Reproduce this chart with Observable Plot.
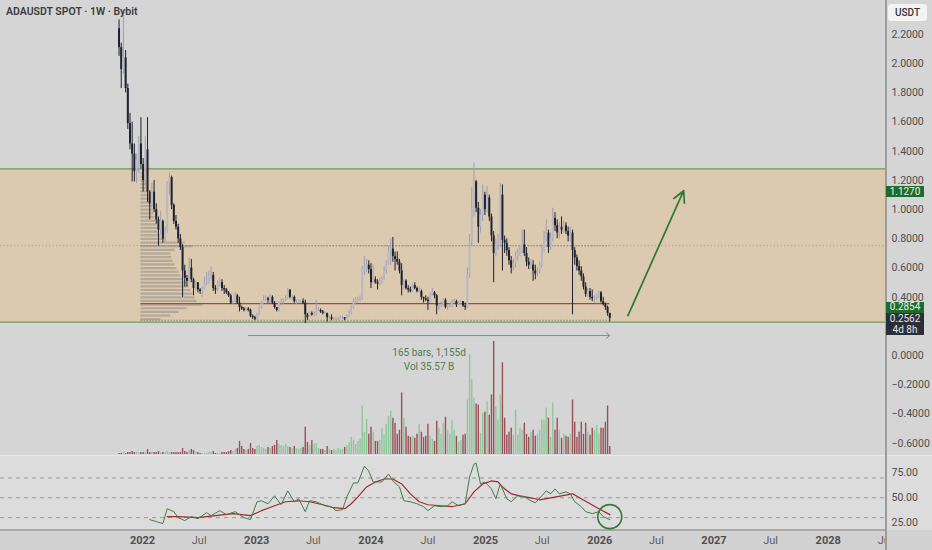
<!DOCTYPE html>
<html><head><meta charset="utf-8">
<script src="https://cdn.jsdelivr.net/npm/d3@7"></script>
<script src="https://cdn.jsdelivr.net/npm/@observablehq/plot@0.6"></script>
<style>
html,body{margin:0;padding:0;background:#d4d4d4;}
#wrap{position:relative;width:932px;height:550px;overflow:hidden;background:#d5d5d5;font-family:Roboto,"Open Sans",sans-serif;}
.layer{position:absolute;left:0;overflow:hidden;}
.layer svg{display:block;max-width:none !important;}
</style></head>
<body><div id="wrap"></div>
<script>
// ---------------- data ----------------
const startWeek = "2021-10-18";
const firstOpen = 2.24;
const closes = [
2.11,1.96,2.04,1.83,1.59,1.45,1.38,1.26,1.34,1.45,
1.31,1.20,1.41,1.12,1.04,1.12,1.00,0.93,0.86,0.92,
0.80,0.85,1.18,1.22,1.03,0.92,0.88,0.80,0.74,0.58,
0.53,0.51,0.60,0.52,0.46,0.50,0.45,0.44,0.46,0.50,
0.51,0.54,0.55,0.46,0.45,0.49,0.50,0.46,0.45,0.43,
0.41,0.36,0.37,0.41,0.36,0.33,0.32,0.31,0.32,0.31,
0.27,0.26,0.25,0.27,0.33,0.36,0.38,0.39,0.38,0.40,
0.36,0.33,0.31,0.36,0.37,0.38,0.39,0.45,0.40,0.40,
0.37,0.37,0.37,0.37,0.36,0.28,0.26,0.29,0.28,0.28,
0.31,0.31,0.30,0.29,0.29,0.26,0.26,0.25,0.25,0.25,
0.25,0.26,0.26,0.25,0.27,0.29,0.33,0.37,0.38,0.38,
0.39,0.59,0.60,0.62,0.59,0.50,0.52,0.50,0.49,0.50,
0.53,0.58,0.63,0.72,0.73,0.68,0.66,0.64,0.58,0.48,
0.51,0.46,0.45,0.44,0.48,0.46,0.44,0.44,0.40,0.39,
0.38,0.37,0.42,0.43,0.41,0.34,0.34,0.35,0.38,0.33,
0.34,0.34,0.37,0.37,0.35,0.36,0.37,0.34,0.33,0.55,
0.78,1.00,1.19,1.01,0.88,0.96,1.10,1.00,1.08,0.95,
0.82,0.70,0.76,0.80,1.10,0.79,0.77,0.72,0.65,0.60,
0.63,0.68,0.70,0.72,0.76,0.70,0.64,0.62,0.62,0.58,
0.56,0.58,0.62,0.72,0.80,0.84,0.74,0.80,0.94,0.89,
0.84,0.88,0.86,0.89,0.85,0.82,0.84,0.72,0.67,0.61,
0.58,0.54,0.47,0.42,0.44,0.40,0.39,0.40,0.41,0.43,
0.37,0.35,0.33,0.29,0.2562];
const highs = [
2.30,2.14,2.36,2.09,1.86,1.66,1.60,1.45,1.38,1.50,
1.63,1.35,1.50,1.63,1.13,1.18,1.20,1.04,0.95,0.99,
0.93,0.88,1.19,1.25,1.23,1.04,0.96,0.90,0.83,0.76,
0.62,0.55,0.67,0.66,0.53,0.51,0.50,0.46,0.47,0.54,
0.57,0.58,0.61,0.57,0.48,0.51,0.53,0.52,0.48,0.46,
0.44,0.42,0.38,0.43,0.42,0.40,0.34,0.33,0.33,0.33,
0.32,0.28,0.27,0.29,0.34,0.37,0.41,0.41,0.40,0.42,
0.41,0.37,0.33,0.37,0.39,0.39,0.41,0.46,0.45,0.41,
0.41,0.38,0.38,0.38,0.39,0.38,0.29,0.30,0.30,0.30,
0.38,0.33,0.32,0.31,0.30,0.29,0.27,0.28,0.26,0.26,
0.26,0.27,0.27,0.26,0.28,0.31,0.34,0.39,0.40,0.40,
0.41,0.61,0.68,0.66,0.65,0.63,0.62,0.54,0.52,0.53,
0.54,0.61,0.65,0.75,0.80,0.81,0.71,0.71,0.66,0.63,
0.52,0.52,0.48,0.47,0.49,0.50,0.47,0.47,0.45,0.40,
0.41,0.40,0.43,0.46,0.44,0.42,0.36,0.37,0.39,0.39,
0.35,0.36,0.38,0.39,0.38,0.37,0.38,0.37,0.36,0.60,
0.83,1.15,1.32,1.20,1.05,1.00,1.17,1.12,1.16,1.10,
0.97,0.85,0.80,0.83,1.18,1.17,0.82,0.80,0.74,0.68,
0.66,0.71,0.73,0.75,0.86,0.86,0.74,0.67,0.66,0.65,
0.62,0.60,0.64,0.76,0.85,0.93,0.86,0.84,1.01,0.98,
0.93,0.91,0.95,0.92,0.91,0.88,0.88,0.86,0.74,0.69,
0.65,0.61,0.56,0.50,0.46,0.46,0.45,0.41,0.42,0.44,
0.44,0.40,0.36,0.34,0.29];
const lows = [
2.05,1.83,1.93,1.80,1.55,1.41,1.19,1.19,1.18,1.25,
1.28,1.12,1.16,1.05,0.93,1.01,0.98,0.90,0.75,0.83,
0.77,0.77,0.84,1.10,1.00,0.90,0.86,0.77,0.72,0.40,
0.47,0.47,0.50,0.50,0.41,0.45,0.43,0.42,0.40,0.45,
0.48,0.49,0.51,0.44,0.42,0.44,0.47,0.44,0.42,0.42,
0.40,0.35,0.35,0.36,0.35,0.30,0.31,0.30,0.30,0.30,
0.26,0.25,0.24,0.24,0.27,0.32,0.35,0.37,0.36,0.36,
0.35,0.32,0.30,0.30,0.34,0.35,0.37,0.38,0.39,0.38,
0.36,0.35,0.36,0.36,0.35,0.22,0.24,0.26,0.27,0.27,
0.27,0.30,0.29,0.28,0.28,0.23,0.25,0.24,0.24,0.24,
0.24,0.25,0.25,0.24,0.25,0.26,0.28,0.32,0.35,0.36,
0.37,0.38,0.55,0.57,0.56,0.46,0.49,0.49,0.45,0.48,
0.49,0.52,0.56,0.62,0.62,0.64,0.58,0.62,0.56,0.41,
0.45,0.45,0.43,0.43,0.43,0.45,0.43,0.43,0.38,0.36,
0.37,0.31,0.36,0.41,0.39,0.28,0.31,0.33,0.34,0.32,
0.31,0.33,0.33,0.36,0.33,0.34,0.35,0.33,0.31,0.32,
0.53,0.75,0.95,0.98,0.77,0.84,0.92,0.96,0.98,0.92,
0.78,0.50,0.68,0.72,0.74,0.58,0.70,0.68,0.62,0.56,
0.58,0.60,0.65,0.68,0.70,0.68,0.61,0.59,0.59,0.51,
0.52,0.54,0.56,0.60,0.71,0.78,0.70,0.72,0.78,0.85,
0.80,0.80,0.83,0.84,0.83,0.78,0.78,0.28,0.62,0.58,
0.55,0.51,0.45,0.40,0.40,0.38,0.37,0.36,0.38,0.39,
0.36,0.34,0.31,0.27,0.23];
// weekly volume (relative units)
const volumes = [
1,1,2,1,2,
2,3,2,2,2,2,2,2,5,2,2,2,2,3,2,2,2,3,2,2,2,2,2,2,
6,3,2,4,5,4,2,2,1,1,1,1,2,2,3,1,1,1,2,2,2,3,4,3,5,6,
13,8,5,4,5,
11,6,5,8,9,7,6,5,7,6,8,9,
14,10,9,8,10,8,7,6,8,6,5,6,7,
27,12,9,14,10,11,
6,5,5,4,8,5,4,5,4,6,5,5,7,
9,12,17,14,10,13,15,
48,22,35,20,27,22,13,13,14,26,
19,30,38,43,36,31,20,24,61,36,
27,18,17,18,16,20,30,22,17,18,
30,18,15,13,33,26,20,31,37,24,
20,34,24,18,12,14,19,20,54,99,
74,56,50,49,21,41,42,52,39,59,
112,47,34,59,91,36,19,22,26,19,
44,19,26,24,31,20,17,22,24,18,
20,24,34,34,46,36,17,51,24,36,
24,16,20,18,17,20,54,32,17,22,
32,20,31,22,19,26,24,29,20,26,
26,32,48,8];
// RSI (weekly index, value) and its moving average
const rsiWeeks  = [14,17,20,22,25,27,30,33,36,40,42,46,49,53,57,60,63,65,68,71,74,77,80,82,85,87,90,94,97,99,102,104,107,109,112,114,116,120,123,125,128,130,133,136,139,141,144,147,150,152,155,158,160,162,163,165,167,170,172,174,177,179,182,185,188,190,193,195,197,199,201,204,206,208,211,213,216,219,221,224];
const rsiValues = [28,26,24,39,36,30,27,31,29,35,32,37,33,36,30,28,46,47,44,52,43,57,46,49,36,47,46,42,41,37,38,51,65,65,82,77,66,66,74,67,61,47,46,44,41,37,42,41,42,46,42,44,71,84,85,64,66,59,49,64,49,46,52,51,47,45,52,57,54,59,54,56,54,46,41,36,34,36,31,28];
const maWeeks  = [22,27,36,44,52,60,65,71,76,82,87,93,98,103,106,109,113,117,121,125,129,133,137,141,147,152,158,162,166,170,173,175,179,183,188,192,197,202,207,211,215,219,224];
const maValues = [31,31,30,32,34,32,37,42,46,47,46,43,40,39,44,51,61,66,69,69,64,54,46,43,42,41,44,56,64,67,66,61,54,52,50,48,50,52,54,49,44,39,33];
// visible-range volume profile
const profileLevels  = [1.25,1.225,1.20,1.175,1.15,1.125,1.10,1.075,1.05,1.025,1.00,0.975,0.95,0.925,0.90,0.875,0.85,0.825,0.80,0.775,0.75,0.725,0.70,0.675,0.65,0.625,0.60,0.575,0.55,0.525,0.50,0.475,0.45,0.425,0.40,0.375,0.35,0.325,0.30,0.275,0.25];
const profileVolumes = [3,4,5,5,6,7,8,9,10,11,12,13,14,15,16,17,18,20,24,44,52,34,30,31,32,34,36,38,40,42,46,48,50,52,54,56,62,46,38,30,20];
const profileStartWeek = 10;
// levels / annotations
const zoneTop = 1.28, zoneBottom = 0.23;
const vahLevel = 0.753, valLevel = 0.243, pocLevel = 0.356;
const measureBars = 165, measureLevel = 0.138;
const measureText1 = "165 bars, 1,155d", measureText2 = "Vol 35.57 B";
const targetFrom = ["2026-04-01", 0.275], targetTo = ["2026-09-26", 1.13];
const rsiCircle = [224, 31];
// 0.2000 is hidden behind the last-price label in the reference
const priceTicks = [-0.6,-0.4,-0.2,0,0.4,0.6,0.8,1.0,1.2,1.4,1.6,1.8,2.0,2.2];
const rsiTicks = [25,50,75], rsiBands = [30,50,70];
const timeTicks = ["2022-01-01","2022-07-01","2023-01-01","2023-07-01","2024-01-01","2024-07-01","2025-01-01","2025-07-01","2026-01-01","2026-07-01","2027-01-01","2027-07-01","2028-01-01","2028-07-01"];
const timeLabels = ["2022","Jul","2023","Jul","2024","Jul","2025","Jul","2026","Jul","2027","Jul","2028","Jul"];
const titleText = "ADAUSDT SPOT · 1W · Bybit";
const targetPrice = 1.1270, markPrice = 0.2854, lastPrice = 0.2562, countdown = "4d 8h", currency = "USDT";

// ---------------- build ----------------
const W = 932, PLOT_R = 47;
const xDomain = [new Date("2020-10-04T06:00:00Z"), new Date("2028-07-02T00:00:00Z")];
const priceDomain = [-0.6836, 2.4329];
const t0 = new Date(startWeek + "T00:00:00Z");
const weekDate = i => new Date(+t0 + i * 7 * 864e5);
const candles = closes.map((c, i) => {
  const open = i ? closes[i - 1] : firstOpen;
  return {date: weekDate(i), open, close: c, high: highs[i], low: lows[i], vol: volumes[i], up: c >= open};
});
const UP = "#b9b9c6", UPW = "#9e9eac", DN = "#1d2130";
const VUP = "#8ec79b", VDN = "#9b4f5a";
const wrap = document.getElementById("wrap");
const baseStyle = {background: "transparent", overflow: "visible", maxWidth: "none", fontFamily: "Roboto, 'Open Sans', sans-serif"};

function addLayer(el, top, height, width) {
  const d = document.createElement("div");
  d.className = "layer";
  d.style.top = top + "px";
  d.style.height = height + "px";
  d.style.width = (width || W) + "px";
  d.appendChild(el);
  wrap.appendChild(d);
  return d;
}
function addDiv(css, html) {
  const d = document.createElement("div");
  d.style.cssText = "position:absolute;" + css;
  if (html != null) d.innerHTML = html;
  wrap.appendChild(d);
  return d;
}
const common = (h) => ({width: W, height: h, marginLeft: 0, marginRight: PLOT_R, marginTop: 0, marginBottom: 0,
  x: {type: "utc", domain: xDomain, axis: null}, style: baseStyle});

// pane backgrounds
addDiv("left:0;top:455px;width:932px;height:75px;background:#dcdcdc;");
addDiv("left:0;top:455px;width:932px;height:1px;background:#e9e9e9;");
addDiv("left:0;top:530px;width:932px;height:20px;background:#d2d2d2;");
addDiv("left:0;top:529px;width:886px;height:2px;background:#a9a9a9;");

// Layer A: zone and level lines
const plotA = Plot.plot({...common(455), y: {domain: priceDomain, axis: null},
  marks: [
    Plot.rect([0], {x1: () => xDomain[0], x2: () => xDomain[1], y1: () => zoneBottom, y2: () => zoneTop, fill: "#dccab0"}),
    Plot.ruleY([zoneTop, zoneBottom], {x1: () => xDomain[0], x2: () => xDomain[1], stroke: "#6d9a60", strokeWidth: 1.2}),
    Plot.ruleY([vahLevel], {x1: () => xDomain[0], x2: () => xDomain[1], stroke: "#b3a792", strokeWidth: 1, strokeDasharray: "1.5,2"})
  ]});
addLayer(plotA, 0, 455);

// Layer B: volume profile
const xTime = d3.scaleUtc(xDomain, [0, W - PLOT_R]);
const px0 = xTime(weekDate(profileStartWeek));
const profile = profileLevels.map((p, i) => ({p, v: profileVolumes[i]}));
const plotB = Plot.plot({width: W, height: 455, marginLeft: 0, marginRight: PLOT_R, marginTop: 0, marginBottom: 0,
  x: {domain: [0, 100], range: [px0, px0 + 100], axis: null}, y: {domain: priceDomain, axis: null}, style: baseStyle,
  marks: [Plot.ruleY(profile, {y: "p", x1: 0, x2: "v", stroke: "#8c8780", strokeOpacity: 0.5, strokeWidth: 2.2})]});
addLayer(plotB, 0, 455);

// Layer D: volume bars
const plotD = Plot.plot({...common(125), y: {domain: [0, 112], range: [124, 11], axis: null}, color: {type: "identity"},
  marks: [Plot.ruleX(candles, {x: "date", y1: 0, y2: "vol", stroke: d => d.up ? VUP : VDN, strokeWidth: 1.4})]});
addLayer(plotD, 330, 125);

// Layer F: time axis
const ticks = timeTicks.map((t, i) => ({date: new Date(t + "T00:00:00Z"), label: timeLabels[i], year: timeLabels[i] !== "Jul"}));
const plotF = Plot.plot({...common(20),
  marks: [
    Plot.text(ticks.filter(d => d.year), {x: "date", text: "label", frameAnchor: "middle", fontSize: 11, fontWeight: 700, fill: "#4f4f4f"}),
    Plot.text(ticks.filter(d => !d.year), {x: "date", text: "label", frameAnchor: "middle", fontSize: 11, fill: "#5e5e5e"})
  ]});
addLayer(plotF, 530, 20, 886);

// Layer E: RSI
const rsi = rsiWeeks.map((w, i) => ({date: weekDate(w), v: rsiValues[i]}));
const ma = maWeeks.map((w, i) => ({date: weekDate(w), v: maValues[i]}));
const plotE = Plot.plot({...common(75), y: {domain: [17, 92.7], axis: null},
  marks: [
    Plot.ruleY(rsiBands, {x1: () => xDomain[0], x2: () => xDomain[1], stroke: "#8e8e8e", strokeWidth: 0.9, strokeDasharray: "4,4"}),
    Plot.lineY(ma, {x: "date", y: "v", stroke: "#a32a2c", strokeWidth: 1.2}),
    Plot.lineY(rsi, {x: "date", y: "v", stroke: "#3f7f47", strokeWidth: 1}),
    Plot.dot([rsiCircle], {x: d => weekDate(d[0]), y: d => d[1], r: 12, stroke: "#2d7b35", strokeWidth: 1.6, fill: "none"}),
    Plot.axisY({anchor: "right", ticks: rsiTicks, tickFormat: d3.format(".2f"), tickSize: 0, tickPadding: 6, fontSize: 10.5, fill: "#4d4d4d", textAnchor: "start", label: null})
  ]});
addLayer(plotE, 455, 75);

// Layer C: candles, annotations, price axis
const plotC = Plot.plot({...common(455), y: {domain: priceDomain, axis: null}, color: {type: "identity"},
  marks: [
    Plot.ruleY([pocLevel], {x1: () => weekDate(profileStartWeek), x2: () => weekDate(closes.length - 1), stroke: "#a8463f", strokeWidth: 1.2}),
    Plot.ruleY([vahLevel, valLevel], {x1: () => weekDate(profileStartWeek), x2: () => weekDate(closes.length - 1), stroke: "#8f8574", strokeWidth: 1, strokeDasharray: "1.5,1.5"}),
    Plot.ruleX(candles, {x: "date", y1: "low", y2: "high", stroke: d => d.up ? UPW : DN, strokeWidth: 1}),
    Plot.ruleX(candles, {x: "date", y1: "open", y2: "close", stroke: d => d.up ? UP : DN, strokeWidth: 2}),
    Plot.arrow([0], {x1: () => weekDate(closes.length - 1 - measureBars), x2: () => weekDate(closes.length - 1),
      y1: () => measureLevel, y2: () => measureLevel, stroke: "#8a8a8a", strokeWidth: 1, headLength: 7, headAngle: 80}),
    Plot.text([measureText1], {x: () => weekDate(closes.length - 1 - measureBars / 2), y: () => measureLevel, dy: 17, text: d => d, fill: "#4e7d57", fontSize: 10}),
    Plot.text([measureText2], {x: () => weekDate(closes.length - 1 - measureBars / 2), y: () => measureLevel, dy: 31, text: d => d, fill: "#4e7d57", fontSize: 10}),
    Plot.arrow([0], {x1: () => new Date(targetFrom[0]), y1: () => targetFrom[1], x2: () => new Date(targetTo[0]), y2: () => targetTo[1],
      stroke: "#2b7a31", strokeWidth: 1.7, headLength: 11, headAngle: 55}),
    Plot.axisY({anchor: "right", ticks: priceTicks, tickFormat: d3.format(".4f"), tickSize: 0, tickPadding: 6, fontSize: 10.5, fill: "#4d4d4d", textAnchor: "start", label: null})
  ]});
addLayer(plotC, 0, 455);

// divider and overlays
addDiv("left:885px;top:0;width:1.5px;height:550px;background:#9c9c9c;");
addDiv("left:6px;top:5px;font-size:10.5px;font-weight:600;color:#3b3b3b;white-space:nowrap;", titleText);
addDiv("left:888px;top:4px;width:39px;height:17px;line-height:17px;background:#f3f3f3;border-radius:3px;text-align:center;font-size:10px;font-weight:500;color:#333;", currency);
const yS = plotC.scale("y");
const f4 = d3.format(".4f");
const yT = yS.apply(targetPrice), yL = yS.apply(lastPrice);
addDiv(`left:886px;top:${yT - 4.5}px;width:38px;height:11px;line-height:11px;background:#1e6b2b;color:#eaf5ea;font-size:10px;text-align:center;`, f4(targetPrice));
addDiv(`left:886px;top:${yL - 5}px;width:38px;height:22px;background:#2a2e39;color:#e3e3e3;font-size:10px;text-align:center;`,
  `<div style="height:11px;line-height:11px;">${f4(lastPrice)}</div><div style="height:11px;line-height:11px;">${countdown}</div>`);
addDiv(`left:886px;top:${yL - 15.5}px;width:38px;height:10.5px;line-height:10.5px;background:#1e6b2b;color:#eaf5ea;font-size:10px;text-align:center;`, f4(markPrice));
</script>
</body></html>
